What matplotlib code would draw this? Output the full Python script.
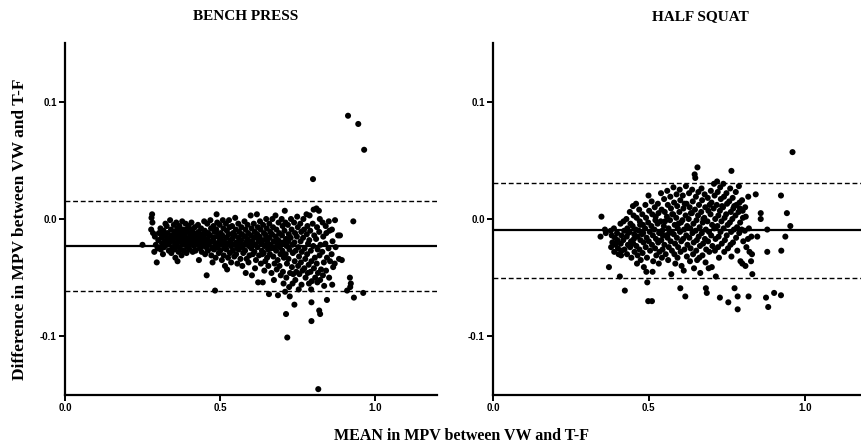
import matplotlib
matplotlib.use("Agg")
import matplotlib.pyplot as plt

# Bland-Altman: mean of the two devices (x) vs difference (y)
bench_pts = [
    (0.250, -0.022), (0.281, 0.004), (0.279, 0.001), (0.282, -0.003), (0.278, -0.009), (0.284, -0.012),
    (0.290, -0.015), (0.293, -0.022), (0.288, -0.028), (0.296, -0.037), (0.301, -0.018), (0.303, -0.012),
    (0.299, -0.025), (0.308, -0.008), (0.311, -0.016), (0.313, -0.021), (0.309, -0.026), (0.315, -0.013),
    (0.318, -0.010), (0.322, -0.019), (0.320, -0.024), (0.316, -0.030), (0.324, -0.004), (0.326, -0.015),
    (0.328, -0.006), (0.331, -0.012), (0.333, -0.017), (0.329, -0.022), (0.335, -0.027), (0.337, -0.020),
    (0.339, -0.001), (0.342, -0.009), (0.344, -0.014), (0.341, -0.019), (0.346, -0.024), (0.343, -0.029),
    (0.348, -0.016), (0.351, -0.005), (0.353, -0.011), (0.349, -0.017), (0.355, -0.021), (0.352, -0.026),
    (0.357, -0.013), (0.356, -0.033), (0.359, -0.003), (0.362, -0.008), (0.360, -0.015), (0.364, -0.019),
    (0.361, -0.023), (0.366, -0.028), (0.363, -0.036), (0.367, -0.012), (0.369, -0.006), (0.372, -0.010),
    (0.370, -0.016), (0.374, -0.020), (0.371, -0.025), (0.376, -0.031), (0.373, -0.014), (0.378, -0.002),
    (0.381, -0.009), (0.379, -0.013), (0.383, -0.018), (0.385, -0.022), (0.382, -0.027), (0.387, -0.017),
    (0.389, -0.004), (0.391, -0.011), (0.388, -0.015), (0.393, -0.020), (0.395, -0.024), (0.392, -0.029),
    (0.396, -0.008), (0.399, -0.006), (0.402, -0.012), (0.400, -0.017), (0.404, -0.021), (0.401, -0.026),
    (0.406, -0.014), (0.403, -0.019), (0.408, -0.003), (0.411, -0.009), (0.409, -0.015), (0.413, -0.019),
    (0.415, -0.023), (0.412, -0.028), (0.416, -0.012), (0.419, -0.007), (0.422, -0.013), (0.420, -0.018),
    (0.424, -0.022), (0.421, -0.027), (0.426, -0.016), (0.429, -0.005), (0.431, -0.011), (0.428, -0.016),
    (0.433, -0.020), (0.435, -0.025), (0.432, -0.035), (0.436, -0.014), (0.439, -0.008), (0.442, -0.013),
    (0.440, -0.018), (0.444, -0.023), (0.441, -0.028), (0.446, -0.021), (0.449, -0.002), (0.451, -0.010),
    (0.448, -0.015), (0.453, -0.019), (0.455, -0.024), (0.452, -0.030), (0.456, -0.012), (0.459, -0.004),
    (0.462, -0.012), (0.460, -0.017), (0.464, -0.022), (0.461, -0.027), (0.457, -0.048), (0.466, -0.020),
    (0.469, -0.001), (0.471, -0.008), (0.468, -0.014), (0.473, -0.019), (0.475, -0.025), (0.472, -0.031),
    (0.476, -0.037), (0.479, -0.006), (0.482, -0.011), (0.480, -0.016), (0.484, -0.021), (0.481, -0.026),
    (0.486, -0.033), (0.484, -0.061), (0.478, -0.018), (0.489, 0.004), (0.491, -0.003), (0.488, -0.009),
    (0.493, -0.015), (0.495, -0.020), (0.492, -0.024), (0.496, -0.029), (0.494, -0.013), (0.499, -0.005),
    (0.502, -0.012), (0.500, -0.018), (0.504, -0.022), (0.501, -0.027), (0.506, -0.035), (0.503, -0.016),
    (0.509, -0.001), (0.511, -0.008), (0.508, -0.014), (0.513, -0.019), (0.515, -0.025), (0.512, -0.031),
    (0.516, -0.040), (0.514, -0.022), (0.519, -0.004), (0.522, -0.010), (0.520, -0.016), (0.524, -0.021),
    (0.521, -0.026), (0.526, -0.033), (0.523, -0.043), (0.529, -0.001), (0.531, -0.007), (0.528, -0.013),
    (0.533, -0.018), (0.535, -0.023), (0.532, -0.029), (0.536, -0.037), (0.534, -0.020), (0.539, -0.006),
    (0.542, -0.012), (0.540, -0.017), (0.544, -0.022), (0.541, -0.027), (0.546, -0.032), (0.543, -0.015),
    (0.549, 0.001), (0.551, -0.009), (0.548, -0.014), (0.553, -0.020), (0.555, -0.025), (0.552, -0.030),
    (0.556, -0.038), (0.559, -0.004), (0.562, -0.011), (0.560, -0.016), (0.564, -0.021), (0.561, -0.026),
    (0.566, -0.034), (0.563, -0.019), (0.569, -0.007), (0.571, -0.013), (0.568, -0.018), (0.573, -0.024),
    (0.575, -0.029), (0.572, -0.040), (0.576, -0.022), (0.579, -0.002), (0.582, -0.009), (0.580, -0.015),
    (0.584, -0.020), (0.581, -0.027), (0.586, -0.034), (0.583, -0.046), (0.589, -0.005), (0.591, -0.012),
    (0.588, -0.017), (0.593, -0.023), (0.595, -0.031), (0.592, -0.037), (0.596, -0.019), (0.599, 0.003),
    (0.602, -0.008), (0.600, -0.014), (0.604, -0.019), (0.601, -0.025), (0.606, -0.030), (0.603, -0.048),
    (0.607, -0.022), (0.609, -0.004), (0.612, -0.011), (0.610, -0.016), (0.614, -0.022), (0.611, -0.028),
    (0.616, -0.035), (0.613, -0.042), (0.619, 0.004), (0.622, -0.007), (0.620, -0.013), (0.624, -0.019),
    (0.621, -0.024), (0.626, -0.031), (0.623, -0.054), (0.625, -0.017), (0.629, -0.002), (0.631, -0.009),
    (0.628, -0.015), (0.633, -0.021), (0.635, -0.027), (0.632, -0.038), (0.636, -0.030), (0.639, -0.005),
    (0.642, -0.012), (0.640, -0.018), (0.644, -0.023), (0.641, -0.029), (0.646, -0.036), (0.643, -0.044),
    (0.638, -0.054), (0.649, 0.000), (0.651, -0.008), (0.648, -0.014), (0.653, -0.020), (0.655, -0.026),
    (0.652, -0.033), (0.656, -0.040), (0.654, -0.017), (0.659, -0.004), (0.662, -0.011), (0.660, -0.016),
    (0.664, -0.022), (0.661, -0.030), (0.666, -0.046), (0.658, -0.064), (0.665, -0.025), (0.669, 0.000),
    (0.671, -0.007), (0.668, -0.013), (0.673, -0.019), (0.675, -0.025), (0.672, -0.032), (0.676, -0.038),
    (0.674, -0.052), (0.679, 0.003), (0.682, -0.009), (0.680, -0.015), (0.684, -0.021), (0.681, -0.027),
    (0.686, -0.035), (0.683, -0.043), (0.687, -0.065), (0.689, -0.003), (0.691, -0.012), (0.688, -0.018),
    (0.693, -0.024), (0.695, -0.030), (0.692, -0.040), (0.696, -0.048), (0.694, -0.020), (0.699, 0.000),
    (0.702, -0.006), (0.700, -0.014), (0.704, -0.020), (0.701, -0.027), (0.706, -0.033), (0.703, -0.045),
    (0.705, -0.055), (0.709, 0.007), (0.711, -0.003), (0.708, -0.010), (0.713, -0.017), (0.715, -0.023),
    (0.712, -0.030), (0.716, -0.038), (0.714, -0.050), (0.710, -0.062), (0.713, -0.081), (0.719, -0.005),
    (0.722, -0.013), (0.720, -0.019), (0.724, -0.026), (0.721, -0.034), (0.726, -0.046), (0.723, -0.058),
    (0.725, -0.066), (0.717, -0.101), (0.729, 0.000), (0.731, -0.009), (0.728, -0.016), (0.733, -0.022),
    (0.735, -0.029), (0.732, -0.041), (0.736, -0.047), (0.734, -0.055), (0.739, -0.003), (0.742, -0.012),
    (0.740, -0.020), (0.744, -0.027), (0.741, -0.036), (0.746, -0.045), (0.743, -0.052), (0.740, -0.073),
    (0.749, 0.002), (0.751, -0.007), (0.748, -0.015), (0.753, -0.024), (0.755, -0.032), (0.752, -0.040),
    (0.756, -0.047), (0.754, -0.060), (0.759, -0.004), (0.762, -0.011), (0.760, -0.019), (0.764, -0.028),
    (0.761, -0.037), (0.766, -0.044), (0.763, -0.056), (0.769, 0.000), (0.771, -0.009), (0.768, -0.016),
    (0.773, -0.025), (0.775, -0.034), (0.772, -0.042), (0.776, -0.050), (0.779, 0.004), (0.782, -0.006),
    (0.780, -0.013), (0.784, -0.021), (0.781, -0.030), (0.786, -0.039), (0.783, -0.046), (0.787, -0.055),
    (0.789, 0.003), (0.791, -0.010), (0.788, -0.018), (0.793, -0.027), (0.795, -0.036), (0.792, -0.045),
    (0.796, -0.053), (0.794, -0.060), (0.800, 0.034), (0.802, 0.008), (0.799, -0.004), (0.804, -0.014),
    (0.801, -0.023), (0.806, -0.033), (0.803, -0.042), (0.807, -0.050), (0.795, -0.071), (0.795, -0.087),
    (0.811, 0.009), (0.813, -0.007), (0.810, -0.017), (0.815, -0.026), (0.812, -0.038), (0.816, -0.046),
    (0.814, -0.054), (0.819, 0.007), (0.822, 0.000), (0.820, -0.011), (0.824, -0.022), (0.821, -0.031),
    (0.826, -0.043), (0.823, -0.052), (0.820, -0.078), (0.823, -0.081), (0.817, -0.145), (0.831, -0.003),
    (0.833, -0.015), (0.830, -0.028), (0.835, -0.037), (0.832, -0.048), (0.836, -0.057), (0.841, -0.006),
    (0.843, -0.012), (0.840, -0.021), (0.845, -0.033), (0.842, -0.044), (0.845, -0.069), (0.851, -0.002),
    (0.853, -0.010), (0.850, -0.025), (0.855, -0.036), (0.852, -0.050), (0.861, -0.009), (0.863, -0.019),
    (0.860, -0.030), (0.865, -0.041), (0.862, -0.056), (0.871, -0.001), (0.873, -0.024), (0.870, -0.038),
    (0.881, -0.014), (0.884, -0.034), (0.887, -0.014), (0.893, -0.035), (0.913, 0.088), (0.910, -0.061),
    (0.920, -0.058), (0.919, -0.050), (0.922, -0.055), (0.930, -0.002), (0.932, -0.067), (0.946, 0.081),
    (0.965, 0.059), (0.962, -0.063),
]

squat_pts = [
    (0.348, 0.002), (0.345, -0.015), (0.359, -0.009), (0.362, -0.012), (0.372, -0.041), (0.378, -0.010),
    (0.381, -0.014), (0.383, -0.020), (0.379, -0.024), (0.388, -0.008), (0.391, -0.016), (0.393, -0.022),
    (0.389, -0.028), (0.398, -0.012), (0.401, -0.025), (0.403, -0.030), (0.399, -0.018), (0.407, -0.049),
    (0.409, -0.004), (0.412, -0.014), (0.410, -0.021), (0.413, -0.027), (0.411, -0.031), (0.419, -0.002),
    (0.421, -0.010), (0.418, -0.018), (0.422, -0.026), (0.423, -0.061), (0.428, 0.000), (0.431, -0.008),
    (0.429, -0.015), (0.433, -0.022), (0.430, -0.030), (0.434, -0.012), (0.439, 0.006), (0.441, -0.004),
    (0.438, -0.011), (0.443, -0.019), (0.440, -0.024), (0.444, -0.033), (0.449, 0.011), (0.451, 0.003),
    (0.448, -0.006), (0.453, -0.013), (0.450, -0.021), (0.454, -0.028), (0.452, -0.017), (0.459, 0.013),
    (0.461, 0.001), (0.458, -0.009), (0.463, -0.015), (0.460, -0.023), (0.464, -0.031), (0.462, -0.038),
    (0.469, 0.008), (0.471, -0.002), (0.468, -0.010), (0.473, -0.018), (0.470, -0.026), (0.474, -0.035),
    (0.472, -0.005), (0.479, 0.004), (0.481, -0.005), (0.478, -0.013), (0.483, -0.020), (0.480, -0.029),
    (0.484, -0.041), (0.482, -0.012), (0.489, 0.012), (0.491, 0.001), (0.488, -0.008), (0.493, -0.016),
    (0.490, -0.024), (0.494, -0.033), (0.492, -0.045), (0.499, 0.020), (0.501, 0.007), (0.498, -0.003),
    (0.503, -0.011), (0.500, -0.019), (0.504, -0.027), (0.495, -0.054), (0.498, -0.070), (0.509, 0.015),
    (0.511, 0.004), (0.508, -0.006), (0.513, -0.014), (0.510, -0.022), (0.514, -0.036), (0.510, -0.070),
    (0.512, -0.045), (0.519, 0.010), (0.521, -0.001), (0.518, -0.009), (0.523, -0.017), (0.520, -0.025),
    (0.524, -0.031), (0.522, 0.002), (0.529, 0.013), (0.531, 0.005), (0.528, -0.004), (0.533, -0.012),
    (0.530, -0.020), (0.534, -0.028), (0.532, -0.038), (0.539, 0.022), (0.541, 0.008), (0.538, -0.002),
    (0.543, -0.010), (0.540, -0.018), (0.544, -0.026), (0.542, -0.033), (0.545, -0.014), (0.549, 0.017),
    (0.551, 0.006), (0.548, -0.006), (0.553, -0.014), (0.550, -0.022), (0.554, -0.030), (0.552, -0.002),
    (0.559, 0.024), (0.561, 0.012), (0.558, 0.002), (0.563, -0.008), (0.560, -0.016), (0.564, -0.024),
    (0.562, -0.035), (0.565, -0.012), (0.569, 0.019), (0.571, 0.009), (0.568, -0.001), (0.573, -0.011),
    (0.570, -0.019), (0.574, -0.027), (0.572, -0.047), (0.575, 0.004), (0.579, 0.027), (0.581, 0.014),
    (0.578, 0.004), (0.583, -0.005), (0.580, -0.013), (0.584, -0.021), (0.582, -0.030), (0.585, -0.038),
    (0.589, 0.021), (0.591, 0.011), (0.588, 0.001), (0.593, -0.008), (0.590, -0.016), (0.594, -0.024),
    (0.592, -0.033), (0.595, -0.004), (0.599, 0.025), (0.601, 0.016), (0.598, 0.006), (0.603, -0.003),
    (0.600, -0.011), (0.604, -0.019), (0.602, -0.028), (0.601, -0.059), (0.605, -0.040), (0.609, 0.020),
    (0.611, 0.009), (0.608, -0.001), (0.613, -0.009), (0.610, -0.017), (0.614, -0.026), (0.612, -0.044),
    (0.615, 0.013), (0.619, 0.028), (0.621, 0.013), (0.618, 0.003), (0.623, -0.006), (0.620, -0.014),
    (0.624, -0.022), (0.622, -0.032), (0.617, -0.066), (0.629, 0.022), (0.631, 0.010), (0.628, 0.000),
    (0.633, -0.008), (0.630, -0.016), (0.634, -0.025), (0.632, -0.036), (0.635, 0.005), (0.639, 0.025),
    (0.641, 0.015), (0.638, 0.005), (0.643, -0.004), (0.640, -0.012), (0.644, -0.020), (0.642, -0.030),
    (0.645, -0.042), (0.647, 0.038), (0.649, 0.035), (0.651, 0.019), (0.648, 0.008), (0.653, -0.001),
    (0.650, -0.010), (0.654, -0.018), (0.652, -0.027), (0.655, -0.035), (0.656, 0.044), (0.659, 0.023),
    (0.661, 0.012), (0.658, 0.003), (0.663, -0.007), (0.660, -0.015), (0.664, -0.023), (0.662, -0.033),
    (0.665, -0.046), (0.669, 0.026), (0.671, 0.016), (0.668, 0.006), (0.673, -0.003), (0.670, -0.012),
    (0.674, -0.021), (0.672, -0.031), (0.675, 0.000), (0.679, 0.021), (0.681, 0.010), (0.678, 0.001),
    (0.683, -0.009), (0.680, -0.017), (0.684, -0.026), (0.682, -0.037), (0.686, -0.063), (0.683, -0.059),
    (0.689, 0.018), (0.691, 0.007), (0.688, -0.002), (0.693, -0.011), (0.690, -0.019), (0.694, -0.028),
    (0.692, -0.042), (0.695, 0.012), (0.699, 0.024), (0.701, 0.014), (0.698, 0.004), (0.703, -0.005),
    (0.700, -0.014), (0.704, -0.023), (0.702, -0.041), (0.709, 0.030), (0.711, 0.020), (0.708, 0.009),
    (0.713, 0.000), (0.710, -0.008), (0.714, -0.017), (0.712, -0.027), (0.715, -0.049), (0.719, 0.032),
    (0.721, 0.023), (0.718, 0.012), (0.723, 0.003), (0.720, -0.006), (0.724, -0.015), (0.722, -0.024),
    (0.725, -0.033), (0.729, 0.027), (0.731, 0.017), (0.728, 0.007), (0.733, -0.002), (0.730, -0.011),
    (0.734, -0.021), (0.728, -0.067), (0.735, 0.011), (0.739, 0.030), (0.741, 0.019), (0.738, 0.010),
    (0.743, 0.001), (0.740, -0.008), (0.744, -0.018), (0.742, -0.028), (0.749, 0.022), (0.751, 0.013),
    (0.748, 0.004), (0.753, -0.005), (0.750, -0.014), (0.754, -0.025), (0.755, -0.071), (0.765, 0.041),
    (0.761, 0.026), (0.758, 0.015), (0.763, 0.006), (0.760, -0.003), (0.764, -0.011), (0.762, -0.022),
    (0.765, -0.032), (0.769, 0.018), (0.771, 0.009), (0.768, 0.000), (0.773, -0.009), (0.770, -0.020),
    (0.775, -0.059), (0.774, 0.011), (0.779, 0.023), (0.781, 0.012), (0.778, 0.003), (0.783, -0.007),
    (0.780, -0.016), (0.784, -0.027), (0.785, -0.066), (0.785, -0.077), (0.789, 0.028), (0.791, 0.014),
    (0.788, 0.006), (0.793, -0.003), (0.790, -0.012), (0.794, -0.036), (0.792, 0.009), (0.799, 0.016),
    (0.801, 0.007), (0.798, -0.009), (0.803, -0.019), (0.800, -0.038), (0.802, 0.001), (0.809, 0.010),
    (0.811, 0.002), (0.808, -0.010), (0.813, -0.024), (0.810, -0.040), (0.819, 0.019), (0.821, -0.008),
    (0.818, -0.017), (0.823, -0.028), (0.820, -0.066), (0.829, -0.015), (0.831, -0.030), (0.828, -0.036),
    (0.832, -0.047), (0.843, 0.021), (0.848, -0.015), (0.859, 0.005), (0.859, 0.000), (0.876, -0.067),
    (0.880, -0.009), (0.880, -0.028), (0.883, -0.075), (0.902, -0.063), (0.924, 0.020), (0.925, -0.027),
    (0.924, -0.065), (0.943, 0.005), (0.938, -0.015), (0.954, -0.006), (0.961, 0.057),
]

panels = ["BENCH PRESS", "HALF SQUAT"]
bias = [-0.023, -0.0095]
upper_loa = [0.0155, 0.031]
lower_loa = [-0.0615, -0.050]
x_ticks = [0.0, 0.5, 1.0]
y_ticks = [-0.1, 0.0, 0.1]

fig = plt.figure(figsize=(8.61, 4.46), dpi=100)
ax1 = fig.add_axes([65 / 861, 51 / 446, 372 / 861, 352 / 446])
ax2 = fig.add_axes([493 / 861, 51 / 446, 374 / 861, 352 / 446])

for i, (ax, pts) in enumerate([(ax1, bench_pts), (ax2, squat_pts)]):
    xs = [p[0] for p in pts]
    ys = [p[1] for p in pts]
    ax.scatter(xs, ys, s=19, c='black', edgecolors='none', zorder=3)
    ax.axhline(bias[i], color='black', lw=1.6, zorder=2)
    ax.axhline(upper_loa[i], color='black', lw=1.0, ls=(0, (3.5, 2)), zorder=2)
    ax.axhline(lower_loa[i], color='black', lw=1.0, ls=(0, (3.5, 2)), zorder=2)
    ax.set_xlim(0, 1.2)
    ax.set_ylim(-0.15, 0.15)
    ax.set_xticks(x_ticks)
    ax.set_yticks(y_ticks)
    ax.set_xticklabels(['0.0', '0.5', '1.0'])
    ax.set_yticklabels(['-0.1', '0.0', '0.1'])
    for s in ['top', 'right']:
        ax.spines[s].set_visible(False)
    for s in ['left', 'bottom']:
        ax.spines[s].set_linewidth(1.6)
    ax.tick_params(direction='out', length=4, width=1.4, pad=2)
    for lab in ax.get_xticklabels() + ax.get_yticklabels():
        lab.set_fontfamily('Liberation Sans')
        lab.set_fontweight('bold')
        lab.set_fontsize(7)

fig.text(246 / 861, 1 - 17 / 446, panels[0], ha='center', va='center',
         family='Liberation Serif', weight='bold', fontsize=11)
fig.text(700 / 861, 1 - 17 / 446, panels[1], ha='center', va='center',
         family='Liberation Serif', weight='bold', fontsize=11)
fig.text(20 / 861, 1 - 229 / 446, 'Difference in MPV between VW and T-F', rotation=90,
         ha='center', va='center', family='Liberation Serif', weight='bold', fontsize=12.5)
fig.text(462 / 861, 1 - 436 / 446, 'MEAN in MPV between VW and T-F', ha='center', va='center',
         family='Liberation Serif', weight='bold', fontsize=11.5)

fig.savefig('out.png', dpi=100)
